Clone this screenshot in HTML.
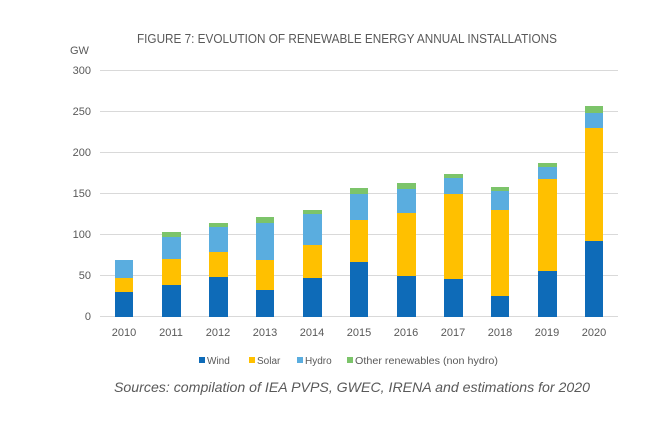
<!DOCTYPE html>
<html><head><style>body{margin:0;background:#fff}svg{display:block}</style></head>
<body>
<svg width="664" height="433" xmlns="http://www.w3.org/2000/svg" font-family="Liberation Sans, sans-serif">
<rect width="664" height="433" fill="#fff"/>
<text x="137" y="43" font-size="13" fill="#595959" textLength="420" lengthAdjust="spacingAndGlyphs">FIGURE 7: EVOLUTION OF RENEWABLE ENERGY ANNUAL INSTALLATIONS</text>
<text x="70" y="54" font-size="11" fill="#595959">GW</text>
<g stroke="#d9d9d9" stroke-width="1">
<line x1="100" x2="618" y1="70.5" y2="70.5"/><line x1="100" x2="618" y1="111.5" y2="111.5"/><line x1="100" x2="618" y1="152.5" y2="152.5"/><line x1="100" x2="618" y1="193.5" y2="193.5"/><line x1="100" x2="618" y1="234.5" y2="234.5"/><line x1="100" x2="618" y1="275.5" y2="275.5"/><line x1="100" x2="618" y1="316.5" y2="316.5"/>
</g>
<g font-size="11" fill="#595959" text-anchor="end">
<text x="91" y="74">300</text><text x="91" y="115">250</text><text x="91" y="156">200</text><text x="91" y="197">150</text><text x="91" y="238">100</text><text x="91" y="279">50</text><text x="91" y="320">0</text>
</g>
<g id="bars">
<!-- x, w=19; wind, solar, hydro, other tops -->
<rect x="115" y="292" width="18" height="25" fill="#0e6bb8"/><rect x="115" y="278" width="18" height="14" fill="#ffc000"/><rect x="115" y="260" width="18" height="18" fill="#5aaddf"/>
<rect x="162" y="285" width="19" height="32" fill="#0e6bb8"/><rect x="162" y="259" width="19" height="26" fill="#ffc000"/><rect x="162" y="237" width="19" height="22" fill="#5aaddf"/><rect x="162" y="232" width="19" height="5" fill="#7cc46a"/>
<rect x="209" y="277" width="19" height="40" fill="#0e6bb8"/><rect x="209" y="252" width="19" height="25" fill="#ffc000"/><rect x="209" y="227" width="19" height="25" fill="#5aaddf"/><rect x="209" y="223" width="19" height="4" fill="#7cc46a"/>
<rect x="256" y="290" width="18" height="27" fill="#0e6bb8"/><rect x="256" y="260" width="18" height="30" fill="#ffc000"/><rect x="256" y="223" width="18" height="37" fill="#5aaddf"/><rect x="256" y="217" width="18" height="6" fill="#7cc46a"/>
<rect x="303" y="278" width="19" height="39" fill="#0e6bb8"/><rect x="303" y="245" width="19" height="33" fill="#ffc000"/><rect x="303" y="214" width="19" height="31" fill="#5aaddf"/><rect x="303" y="210" width="19" height="4" fill="#7cc46a"/>
<rect x="350" y="262" width="18" height="55" fill="#0e6bb8"/><rect x="350" y="220" width="18" height="42" fill="#ffc000"/><rect x="350" y="194" width="18" height="26" fill="#5aaddf"/><rect x="350" y="188" width="18" height="6" fill="#7cc46a"/>
<rect x="397" y="276" width="19" height="41" fill="#0e6bb8"/><rect x="397" y="213" width="19" height="63" fill="#ffc000"/><rect x="397" y="189" width="19" height="24" fill="#5aaddf"/><rect x="397" y="183" width="19" height="6" fill="#7cc46a"/>
<rect x="444" y="279" width="19" height="38" fill="#0e6bb8"/><rect x="444" y="194" width="19" height="85" fill="#ffc000"/><rect x="444" y="178" width="19" height="16" fill="#5aaddf"/><rect x="444" y="174" width="19" height="4" fill="#7cc46a"/>
<rect x="491" y="296" width="18" height="21" fill="#0e6bb8"/><rect x="491" y="210" width="18" height="86" fill="#ffc000"/><rect x="491" y="191" width="18" height="19" fill="#5aaddf"/><rect x="491" y="187" width="18" height="4" fill="#7cc46a"/>
<rect x="538" y="271" width="19" height="46" fill="#0e6bb8"/><rect x="538" y="179" width="19" height="92" fill="#ffc000"/><rect x="538" y="167" width="19" height="12" fill="#5aaddf"/><rect x="538" y="163" width="19" height="4" fill="#7cc46a"/>
<rect x="585" y="241" width="18" height="76" fill="#0e6bb8"/><rect x="585" y="128" width="18" height="113" fill="#ffc000"/><rect x="585" y="113" width="18" height="15" fill="#5aaddf"/><rect x="585" y="106" width="18" height="7" fill="#7cc46a"/>
</g>
<g font-size="11" fill="#595959" text-anchor="middle">
<text x="124" y="336">2010</text><text x="171" y="336">2011</text><text x="218" y="336">2012</text><text x="265" y="336">2013</text><text x="312" y="336">2014</text><text x="359" y="336">2015</text><text x="406" y="336">2016</text><text x="453" y="336">2017</text><text x="500" y="336">2018</text><text x="547" y="336">2019</text><text x="594" y="336">2020</text>
</g>
<g font-size="10" fill="#595959">
<rect x="199" y="357" width="6" height="6" fill="#0e6bb8"/><text x="207" y="364">Wind</text>
<rect x="249" y="357" width="6" height="6" fill="#ffc000"/><text x="257" y="364">Solar</text>
<rect x="297" y="357" width="6" height="6" fill="#5aaddf"/><text x="305" y="364">Hydro</text>
<rect x="347" y="357" width="6" height="6" fill="#7cc46a"/><text x="355" y="364" textLength="143" lengthAdjust="spacingAndGlyphs">Other renewables (non hydro)</text>
</g>
<text x="114" y="392" font-size="14" font-style="italic" fill="#595959" textLength="476" lengthAdjust="spacingAndGlyphs">Sources: compilation of IEA PVPS, GWEC, IRENA and estimations for 2020</text>
</svg>
</body></html>
